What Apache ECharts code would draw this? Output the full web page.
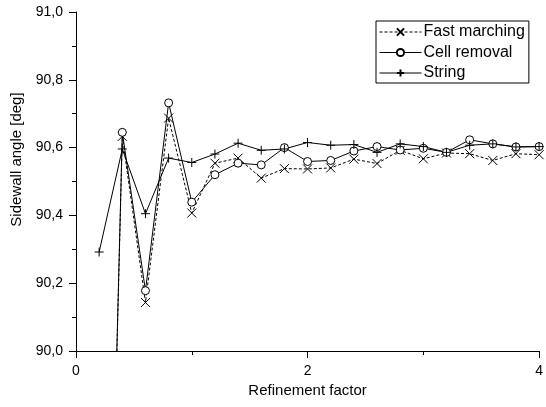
<!DOCTYPE html>
<html>
<head>
<meta charset="utf-8">
<script src="https://cdn.jsdelivr.net/npm/echarts@6/dist/echarts.min.js"></script>
<style>
  html, body { margin: 0; padding: 0; background: #fff; }
  #chart { width: 546px; height: 407px; }
</style>
</head>
<body>
<div id="chart"></div>
<script>
// refinement factor (x)
const refinement = [0.2, 0.4, 0.6, 0.8, 1.0, 1.2, 1.4, 1.6, 1.8, 2.0, 2.2, 2.4, 2.6, 2.8, 3.0, 3.2, 3.4, 3.6, 3.8, 4.0]
// sidewall angle [deg]
const fastMarching = [87.92, 90.633, 90.143, 90.687, 90.407, 90.554, 90.569, 90.510, 90.538, 90.537, 90.540, 90.566, 90.553, 90.592, 90.567, 90.584, 90.582, 90.562, 90.582, 90.579]
const cellRemoval = [87.92, 90.645, 90.178, 90.732, 90.439, 90.520, 90.554, 90.549, 90.600, 90.559, 90.562, 90.590, 90.603, 90.593, 90.598, 90.586, 90.623, 90.611, 90.602, 90.603]
const stringMethod = [90.292, 90.596, 90.405, 90.569, 90.556, 90.581, 90.613, 90.592, 90.596, 90.615, 90.607, 90.609, 90.586, 90.611, 90.603, 90.586, 90.607, 90.611, 90.602, 90.603]
const seriesNames = ['Fast marching', 'Cell removal', 'String']

const font = '"Liberation Sans", Arial, sans-serif'
const black = '#000'

const pairs = (ys) => refinement.map((x, i) => [x, ys[i]])
const symbolCross = 'path://M0,0L10,10M10,0L0,10'
const symbolPlus = 'path://M5,0L5,10M0,5L10,5'

const chart = echarts.init(document.getElementById('chart'))

// fill: 符号内部颜色（空心圆用白色）
const baseSeries = (name, data, symbol, size, dashed, fill) => ({
  name: name,
  type: 'line',
  data: pairs(data),
  symbol: symbol,
  symbolSize: size,
  showAllSymbol: true,
  clip: true,
  animation: false,
  lineStyle: { color: black, width: 1, type: dashed ? [3, 2] : 'solid' },
  itemStyle: { color: fill || black, borderColor: black, borderWidth: 1 }
})

chart.setOption({
  backgroundColor: '#fff',
  animation: false,
  grid: { left: 76, right: 6, top: 12, bottom: 56 },
  legend: {
    orient: 'vertical',
    left: 376,
    top: 21,
    padding: [3, 4, 2, 3],
    itemWidth: 42,
    itemHeight: 9,
    itemGap: 4.5,
    borderColor: black,
    borderWidth: 1,
    borderRadius: 0,
    selectedMode: false,
    lineStyle: { width: 1 },
    textStyle: { color: black, fontSize: 16, fontFamily: font, padding: [0, 0, 0, -3] },
    data: seriesNames
  },
  xAxis: {
    type: 'value',
    min: 0,
    max: 4,
    interval: 2,
    name: 'Refinement factor',
    nameLocation: 'middle',
    nameGap: 32,
    nameTextStyle: { color: black, fontSize: 15, fontFamily: font },
    axisLine: { lineStyle: { color: black, width: 1 } },
    axisTick: { length: 7, lineStyle: { color: black } },
    minorTick: { show: true, splitNumber: 2, length: 4, lineStyle: { color: black } },
    splitLine: { show: false },
    axisLabel: { color: black, fontSize: 14, fontFamily: font, margin: 13 }
  },
  yAxis: {
    type: 'value',
    min: 90,
    max: 91,
    interval: 0.2,
    name: 'Sidewall angle [deg]',
    nameLocation: 'middle',
    nameGap: 48,
    nameTextStyle: { color: black, fontSize: 15, fontFamily: font, padding: [0, 0, 0, 44] },
    axisLine: { show: true, lineStyle: { color: black, width: 1 } },
    axisTick: { show: true, length: 7, lineStyle: { color: black } },
    minorTick: { show: true, splitNumber: 2, length: 4, lineStyle: { color: black } },
    splitLine: { show: false },
    axisLabel: {
      color: black,
      fontSize: 14,
      fontFamily: font,
      margin: 13,
      formatter: (v) => v.toFixed(1).replace('.', ',')
    }
  },
  series: [
    baseSeries(seriesNames[0], fastMarching, symbolCross, 9, true),
    baseSeries(seriesNames[1], cellRemoval, 'circle', 8, false, '#fff'),
    baseSeries(seriesNames[2], stringMethod, symbolPlus, 9, false)
  ]
})
</script>
</body>
</html>
